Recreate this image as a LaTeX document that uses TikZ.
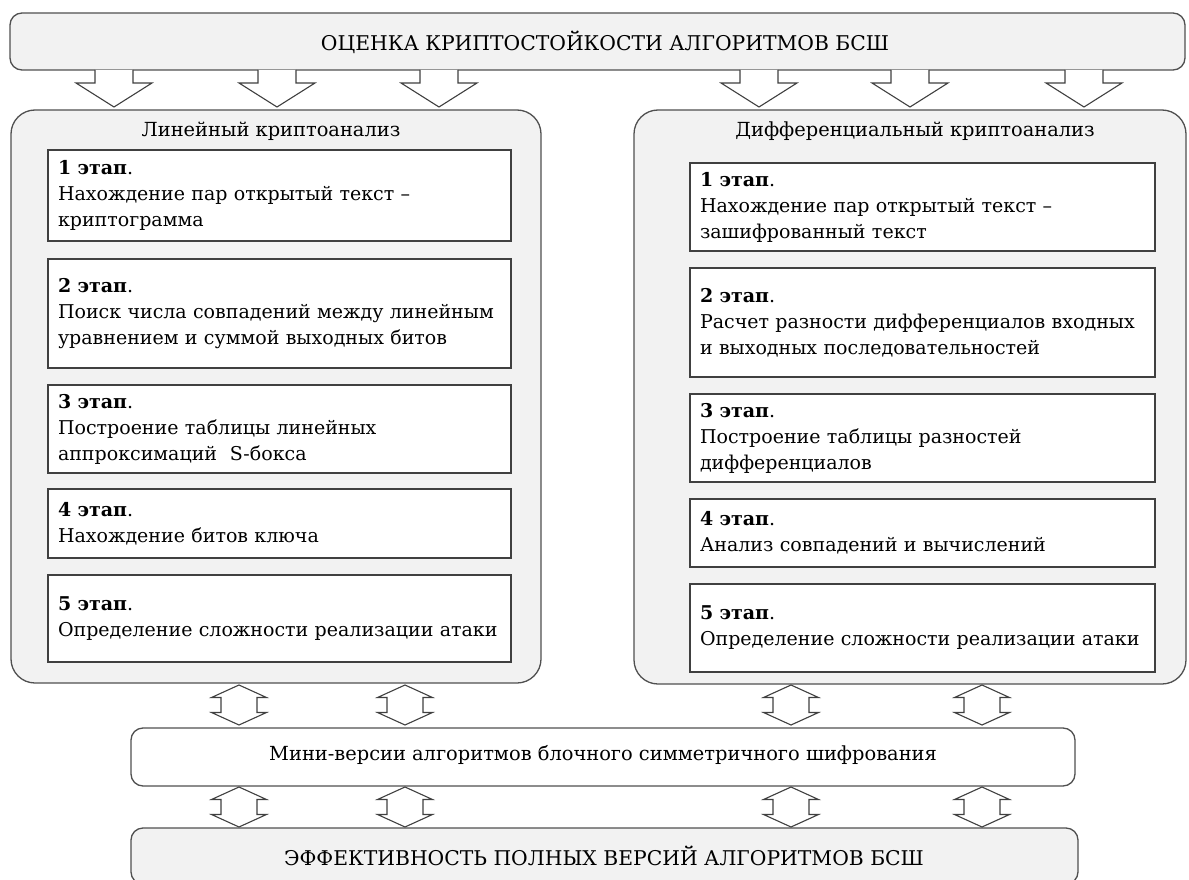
\documentclass[tikz,border=0pt]{standalone}
\usepackage{fontspec}
\setmainfont{DejaVu Serif}
\definecolor{panelfill}{HTML}{F2F2F2}
\definecolor{edge}{HTML}{404040}
\definecolor{pedge}{HTML}{505050}
\begin{document}
\begin{tikzpicture}[x=1pt,y=-1pt,
  every node/.style={font=\fontsize{19}{26}\selectfont, text=black},
  captxt/.style={font=\fontsize{20.3}{26}\selectfont},
  midtxt/.style={font=\fontsize{19.4}{26}\selectfont},
  bigbox/.style={draw=pedge, line width=1.3pt, fill=panelfill, rounded corners=12pt, inner sep=0pt},
  minibox/.style={draw=pedge, line width=1.3pt, fill=white, rounded corners=12pt, inner sep=0pt},
  panel/.style={draw=pedge, line width=1.3pt, fill=panelfill, rounded corners=24pt, inner sep=0pt},
  stagebox/.style={draw=edge, line width=1.4pt, fill=white, inner xsep=10pt, inner ysep=0pt, align=left},
  lstage/.style={stagebox, text width=443pt, minimum width=463pt},
  rstage/.style={stagebox, text width=445pt, minimum width=465pt},
  blk/.style={draw=edge, line width=1.1pt, fill=white, line join=miter},
  downarr/.pic={\path[blk] (-19,0) -- (-19,13) -- (-38,13) -- (0,37) -- (38,13) -- (19,13) -- (19,0);},
  dblarr/.pic={\path[blk] (0,-20) -- (27.5,-7.5) -- (18,-7.5) -- (18,7.5) -- (27.5,7.5) -- (0,20)
     -- (-27.5,7.5) -- (-18,7.5) -- (-18,-7.5) -- (-27.5,-7.5) -- cycle;}
]
\useasboundingbox (0,0) rectangle (1189,880);

% top box
\node[bigbox, minimum width=1175pt, minimum height=57pt] (top) at (597.5,41.5) {};
\node[captxt] (toptext) at (605,42) {ОЦЕНКА КРИПТОСТОЙКОСТИ АЛГОРИТМОВ БСШ};

% panels
\node[panel, minimum width=530pt, minimum height=573pt] (lp) at (276,396.5) {};
\node[panel, minimum width=552pt, minimum height=574pt] (rp) at (910,397) {};
\node[midtxt] (lt) at (271,131) {Линейный криптоанализ};
\node[midtxt] (rt) at (915,131) {Дифференциальный криптоанализ};

% arrows from top box
\foreach \x in {114,277,439,759,910,1084}
  \pic at (\x,70) {downarr};

% left stages
\node[lstage, minimum height=91pt] (l1) at (279.5,195.5) {\textbf{1 этап}.\\Нахождение пар открытый текст –\\криптограмма};
\node[lstage, minimum height=109pt] (l2) at (279.5,313.5) {\textbf{2 этап}.\\Поиск числа совпадений между линейным\\уравнением и суммой выходных битов};
\node[lstage, minimum height=88pt] (l3) at (279.5,429) {\textbf{3 этап}.\\Построение таблицы линейных\\аппроксимаций\ \ S-бокса};
\node[lstage, minimum height=69pt] (l4) at (279.5,523.5) {\textbf{4 этап}.\\Нахождение битов ключа};
\node[lstage, minimum height=87pt] (l5) at (279.5,618.5) {\textbf{5 этап}.\\Определение сложности реализации атаки};

% right stages
\node[rstage, minimum height=88pt] (r1) at (922.5,207) {\textbf{1 этап}.\\Нахождение пар открытый текст –\\зашифрованный текст};
\node[rstage, minimum height=109pt] (r2) at (922.5,322.5) {\textbf{2 этап}.\\Расчет разности дифференциалов входных\\и выходных последовательностей};
\node[rstage, minimum height=88pt] (r3) at (922.5,438) {\textbf{3 этап}.\\Построение таблицы разностей\\дифференциалов};
\node[rstage, minimum height=68pt] (r4) at (922.5,533) {\textbf{4 этап}.\\Анализ совпадений и вычислений};
\node[rstage, minimum height=88pt] (r5) at (922.5,628) {\textbf{5 этап}.\\Определение сложности реализации атаки};

% mini box and bottom box
\node[minibox, minimum width=944pt, minimum height=58pt] (mini) at (603,757) {};
\node[midtxt] (minitext) at (603,755) {Мини-версии алгоритмов блочного симметричного шифрования};
\node[bigbox, minimum width=947pt, minimum height=56pt] (bot) at (604.5,856) {};
\node[captxt] (bottext) at (604,856) {ЭФФЕКТИВНОСТЬ ПОЛНЫХ ВЕРСИЙ АЛГОРИТМОВ БСШ};

% double arrows
\foreach \x in {239,405,791,982} {
  \pic at (\x,705) {dblarr};
  \pic at (\x,807) {dblarr};
}
\end{tikzpicture}
\end{document}
